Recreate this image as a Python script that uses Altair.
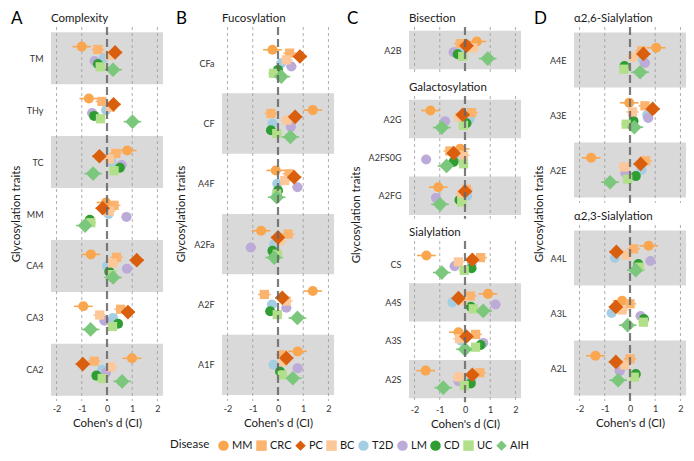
import altair as alt
import pandas as pd

# ---------------- data ----------------
diseases = ["MM", "CRC", "PC", "BC", "T2D", "LM", "CD", "UC", "AIH"]
colors = ["#F9A64F", "#FBB36E", "#D95F0E", "#FCC799", "#A6CEE3", "#BCAAD8", "#2E9E32", "#B2DF8A", "#7BC77B"]
shapes = ["circle", "square", "diamond", "square", "circle", "circle", "circle", "square", "diamond"]
ci_half = [0.37, 0.25, 0.28, 0.25, 0.15, 0.20, 0.15, 0.20, 0.35]

# Panel A - Complexity
TM = [-1.00, -0.36, 0.32, 0.10, -0.13, -0.49, -0.36, -0.27, 0.24]
THy = [-0.72, -0.20, 0.26, 0.13, -0.04, -0.59, -0.51, -0.26, 1.01]
TC = [0.80, 0.35, -0.30, 0.10, 0.18, 0.58, 0.51, 0.28, -0.55]
MM_trait = [-0.04, 0.28, -0.17, 0.09, 0.06, 0.77, -0.68, -0.64, -0.87]
CA4 = [-0.64, 0.38, 1.18, 0.22, 0.00, 0.79, 0.09, 0.19, 0.24]
CA3 = [-0.94, 0.54, 0.83, -0.29, 0.24, -0.10, 0.44, 0.22, -0.65]
CA2 = [0.99, -0.51, -0.96, 0.15, -0.19, -0.04, -0.42, -0.19, 0.60]

# Panel B - Fucosylation
CFa = [-0.22, 0.46, 0.87, 0.33, 0.13, 0.53, 0.00, -0.18, 0.13]
CF = [1.38, -0.28, 0.68, 0.36, -0.22, 0.51, -0.28, -0.05, 0.49]
A4F = [-0.09, 0.44, 0.64, 0.27, -0.03, 0.77, 0.00, -0.05, -0.05]
A2Fa = [-0.67, 0.40, 0.00, 0.08, -0.15, -1.08, -0.22, -0.03, -0.15]
A2F = [1.38, -0.54, 0.17, 0.33, -0.24, 0.33, -0.31, -0.03, 0.77]
A1F = [0.78, 0.17, 0.33, 0.20, -0.18, 0.78, 0.08, 0.17, 0.59]

# Panel C - Bisection / Galactosylation / Sialylation
A2B = [0.47, -0.19, 0.06, 0.32, -0.22, -0.45, -0.29, -0.09, 0.90]
A2G = [-1.37, 0.26, -0.09, -0.22, 0.19, -0.79, 0.06, -0.06, -0.92]
A2FS0G = [-0.19, -0.60, -0.45, -0.06, -0.32, -1.54, -0.45, -0.06, -0.73]
A2FG = [-1.06, 0.06, 0.00, -0.13, 0.09, -1.15, -0.22, -0.13, -0.99]
CS = [-1.53, 0.62, 0.29, -0.26, 0.27, -0.41, 0.26, -0.03, -0.92]
A4S = [0.91, 0.21, -0.26, -0.09, -0.50, 1.21, 0.23, 0.33, 0.72]
A3S = [-0.26, 0.42, 0.06, -0.22, -0.15, 0.72, 0.62, 0.42, 0.00]
A2S = [-1.56, 0.59, 0.29, -0.26, 0.27, -0.26, 0.23, -0.03, -0.86]

# Panel D - alpha2,6 / alpha2,3 sialylation
A4E = [1.04, 0.46, 0.53, 0.13, 0.51, 0.59, -0.22, -0.24, 0.40]
A3E = [-0.03, 0.59, 0.90, 0.10, 0.68, 0.72, 0.14, -0.15, 0.17]
A2E = [-1.54, 0.62, 0.42, -0.22, 0.46, -0.18, 0.23, -0.09, -0.79]
A4L = [0.74, 0.14, -0.54, -0.15, -0.60, 0.81, 0.33, 0.36, 0.23]
A3L = [-0.31, 0.00, -0.56, -0.31, -0.73, 0.42, 0.55, 0.53, -0.09]
A2L = [-1.37, 0.00, -0.56, -0.22, -0.37, -0.41, 0.23, 0.17, -0.47]

x_ticks = [-2, -1, 0, 1, 2]
grid_ticks = [-2, -1, 1, 2]
zero_line = [0]

# ---------------- layout / style ----------------
W = 112
H = 374
GAP_V = 22
XDOM = [-2.22, 2.22]
DODGE = 0.0556
FONT = "Lato"
TXT = "#1a1a1a"
SHAPE_SIZE = {"circle": 100, "square": 85, "diamond": 215}

legend = alt.Legend(
    title="Disease", orient="none", legendX=119, legendY=413,
    direction="horizontal", columns=9, titleOrient="left",
    titleAnchor="middle", titleBaseline="middle",
)


def text_layer(txt, x, y, **kw):
    return alt.Chart(pd.DataFrame({"t": [txt]})).mark_text(**kw).encode(
        x=alt.value(x), y=alt.value(y), text="t:N")


def panel(title, traits, rows, height, show_x, letter=None, letter_x=-40,
          ytitle_y=None, ytitle_x=-34):
    n = len(traits)
    recs = []
    for k, t in enumerate(traits):
        for i, dis in enumerate(diseases):
            d = rows[k][i]
            recs.append({"trait": t, "disease": dis, "d": d,
                         "lo": d - ci_half[i], "hi": d + ci_half[i],
                         "ypos": k + (i - 4) * DODGE})
    df = pd.DataFrame(recs)
    bands = pd.DataFrame([{"ylo": k - 0.5, "yhi": k + 0.5}
                          for k in range(n) if (n - 1 - k) % 2 == 0])
    yscale = alt.Scale(domain=[-0.6, n - 0.4], reverse=True, nice=False, zero=False)
    label_expr = "[" + ",".join("'%s'" % t for t in traits) + "][datum.value]"
    yaxis = alt.Axis(values=list(range(n)), labelExpr=label_expr, ticks=False,
                     domain=False, grid=False, labelPadding=8, labelFontSize=9,
                     labelColor="#333333", title=None)
    xscale = alt.Scale(domain=XDOM, nice=False, zero=False)
    if show_x:
        xaxis = alt.Axis(values=x_ticks, grid=False, ticks=False, domain=False,
                         labelFlush=False, labelFontSize=9, labelColor="#333333",
                         labelPadding=3,
                         labelExpr="datum.value < 0 ? '-' + abs(datum.value) : '' + datum.value",
                         title="Cohen's d (CI)", titleFontSize=11.5,
                         titleFontWeight="normal", titlePadding=4, titleColor=TXT)
    else:
        xaxis = None
    X = lambda f: alt.X(f, scale=xscale, axis=xaxis)
    Y = lambda f: alt.Y(f, scale=yscale, axis=yaxis)

    layers = [
        alt.Chart(bands).mark_rect(color="#d9d9d9").encode(
            x=alt.value(0), x2=alt.value("width"), y=Y("ylo:Q"), y2="yhi:Q"),
        alt.Chart(pd.DataFrame({"v": grid_ticks})).mark_rule(
            color="#9a9a9a", strokeWidth=0.8, strokeDash=[3, 3]).encode(
            x=X("v:Q"), y=alt.value(0), y2=alt.value("height")),
    ]
    # error bars, one layer per disease
    for i, dis in enumerate(diseases):
        layers.append(alt.Chart(df).transform_filter(alt.datum.disease == dis).mark_rule(
            color=colors[i], strokeWidth=1.6).encode(x=X("lo:Q"), x2="hi:Q", y=Y("ypos:Q")))
    # points grouped by marker shape
    for shp in ["circle", "square", "diamond"]:
        members = [d for d, s in zip(diseases, shapes) if s == shp]
        layers.append(alt.Chart(df).transform_filter(
            alt.FieldOneOfPredicate(field="disease", oneOf=members)).mark_point(
            filled=True, opacity=1, strokeWidth=0, size=SHAPE_SIZE[shp]).encode(
            x=X("d:Q"), y=Y("ypos:Q"),
            color=alt.Color("disease:N", scale=alt.Scale(domain=diseases, range=colors), legend=legend),
            shape=alt.Shape("disease:N", scale=alt.Scale(domain=diseases, range=shapes), legend=legend)))
    layers.append(alt.Chart(pd.DataFrame({"v": zero_line})).mark_rule(
        color="#666666", strokeWidth=2.2, strokeDash=[8, 4], opacity=0.85).encode(
        x=X("v:Q"), y=alt.value(0), y2=alt.value("height")))
    layers.append(text_layer(title, 0, -5, align="left", baseline="alphabetic",
                             fontSize=11.5, color=TXT))
    if letter is not None:
        layers.append(text_layer(letter, letter_x, -3, align="left", baseline="alphabetic",
                                 fontSize=17, color="#000000"))
    if ytitle_y is not None:
        layers.append(text_layer("Glycosylation traits", ytitle_x, ytitle_y, angle=270,
                                 align="center", baseline="middle", fontSize=11.5, color=TXT))
    return alt.layer(*layers).properties(width=W, height=height)


# column A
colA = panel("Complexity", ["TM", "THy", "TC", "MM", "CA4", "CA3", "CA2"],
             [TM, THy, TC, MM_trait, CA4, CA3, CA2], H, True,
             letter="A", letter_x=-40, ytitle_y=H / 2, ytitle_x=-34)
# column B
colB = panel("Fucosylation", ["CFa", "CF", "A4F", "A2Fa", "A2F", "A1F"],
             [CFa, CF, A4F, A2Fa, A2F, A1F], H, True,
             letter="B", letter_x=-46, ytitle_y=H / 2, ytitle_x=-40)
# column C
unitC = (H - 2 * GAP_V) / 8.6
hC1, hC2, hC3 = 1.2 * unitC, 3.2 * unitC, 4.2 * unitC
c1 = panel("Bisection", ["A2B"], [A2B], hC1, False, letter="C", letter_x=-62)
c2 = panel("Galactosylation", ["A2G", "A2FS0G", "A2FG"], [A2G, A2FS0G, A2FG], hC2, False,
           ytitle_y=H / 2 - (hC1 + GAP_V), ytitle_x=-52)
c3 = panel("Sialylation", ["CS", "A4S", "A3S", "A2S"], [CS, A4S, A3S, A2S], hC3, True)
colC = alt.vconcat(c1, c2, c3, spacing=GAP_V, bounds="flush")
# column D
hD = (H - GAP_V) / 2
d1 = panel("α2,6-Sialylation", ["A4E", "A3E", "A2E"], [A4E, A3E, A2E], hD, False,
           letter="D", letter_x=-40, ytitle_y=H / 2, ytitle_x=-34)
d2 = panel("α2,3-Sialylation", ["A4L", "A3L", "A2L"], [A4L, A3L, A2L], hD, True)
colD = alt.vconcat(d1, d2, spacing=GAP_V, bounds="flush")

chart = alt.hconcat(colA, colB, colC, colD, spacing=13).properties(
    padding={"top": 2, "left": 3, "right": 0, "bottom": 0}
).configure(font=FONT).configure_view(stroke=None).configure_legend(
    labelFontSize=11, titleFontSize=11.5, titleFontWeight="normal",
    titleColor=TXT, labelColor=TXT, symbolSize=110, columnPadding=3,
    labelOffset=3, titlePadding=8, symbolStrokeWidth=0,
)

chart.save("out.html", embed_options={"renderer": "svg", "actions": False})
